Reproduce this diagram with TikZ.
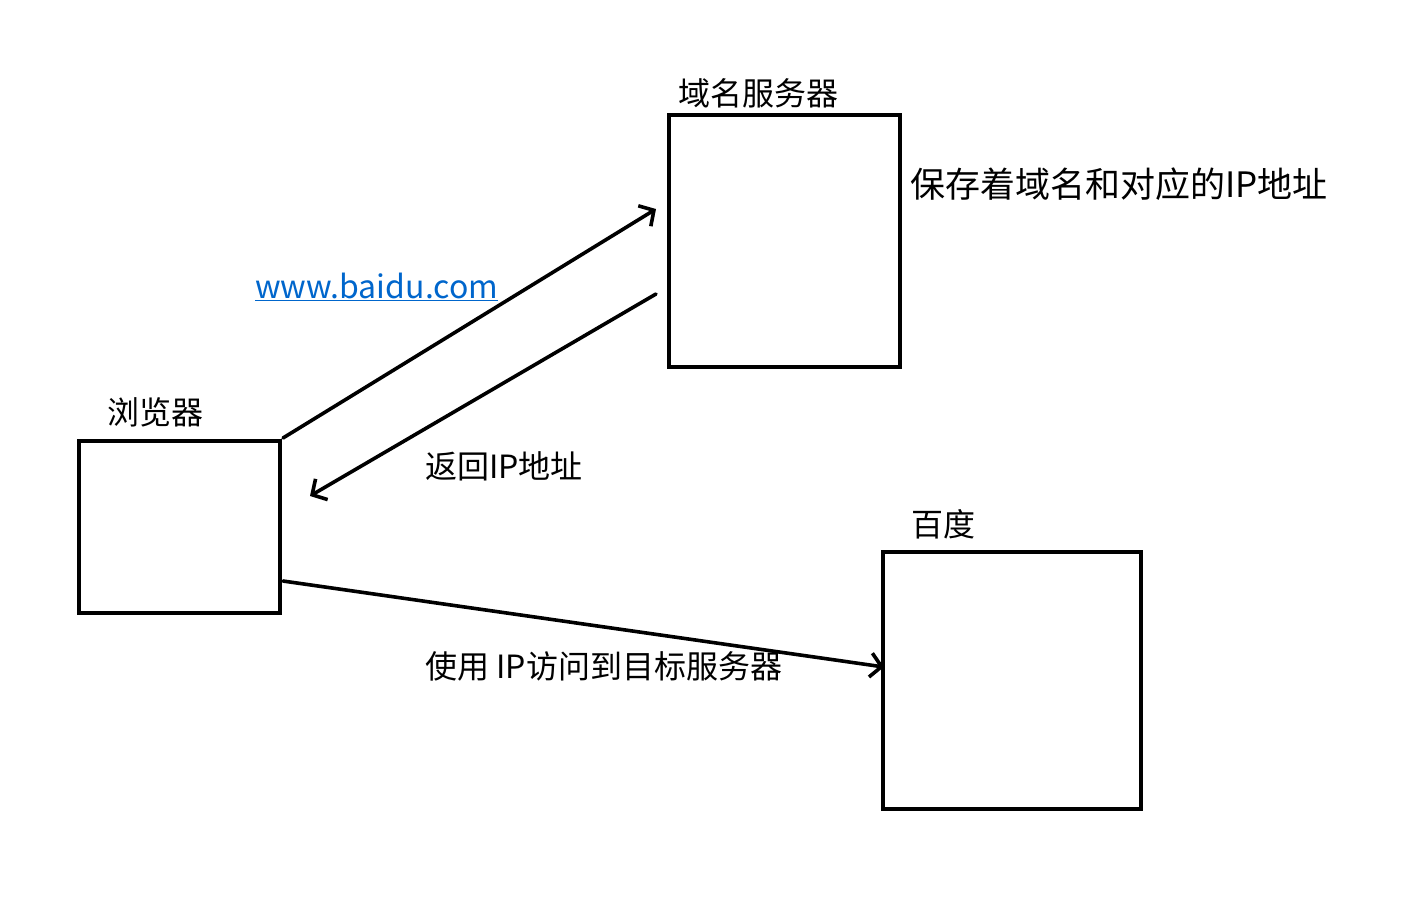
\documentclass[tikz,border=0pt]{standalone}
\usepackage{fontspec}
\setmainfont{Noto Sans CJK SC}
\usetikzlibrary{arrows.meta}
\definecolor{linkblue}{RGB}{0,102,204}
\begin{document}
\begin{tikzpicture}[x=1pt,y=-1pt,
  box/.style={draw,line width=3.6pt},
  conn/.style={line width=3.6pt,line cap=round,-{Straight Barb[length=11pt,width=24pt,line width=3.6pt]}},
  lbl/.style={font=\fontsize{32}{36}\selectfont,inner sep=0pt},
  biglbl/.style={font=\fontsize{35}{40}\selectfont,inner sep=0pt}]
\useasboundingbox (0,0) rectangle (1417,910);
\draw[box] (79,441) rectangle (280,613);
\draw[box] (669,115) rectangle (900,367);
\draw[box] (883,552) rectangle (1141,809);
\coordinate (a1s) at (283,438);
\coordinate (a1e) at (656,209);
\coordinate (a2s) at (656,294);
\coordinate (a2e) at (310,496);
\coordinate (a3s) at (283,581);
\coordinate (a3e) at (884,667);
\draw[conn] (a1s) -- (a1e);
\draw[conn] (a2s) -- (a2e);
\draw[conn] (a3s) -- (a3e);
\node[lbl,anchor=west] (tb) at (107,412) {浏览器};
\node[lbl,anchor=west] (td) at (678,93) {域名服务器};
\node[biglbl,anchor=west] (tk) at (910,184) {保存着域名和对应的IP地址};
\node[lbl,anchor=west,text=linkblue] (tw) at (255,287) {\underline{www.baidu.com}};
\node[lbl,anchor=west] (tr) at (425,466) {返回IP地址};
\node[lbl,anchor=west] (tbd) at (911,524) {百度};
\node[lbl,anchor=west] (tu) at (425,666) {使用 IP访问到目标服务器};
\end{tikzpicture}
\end{document}
